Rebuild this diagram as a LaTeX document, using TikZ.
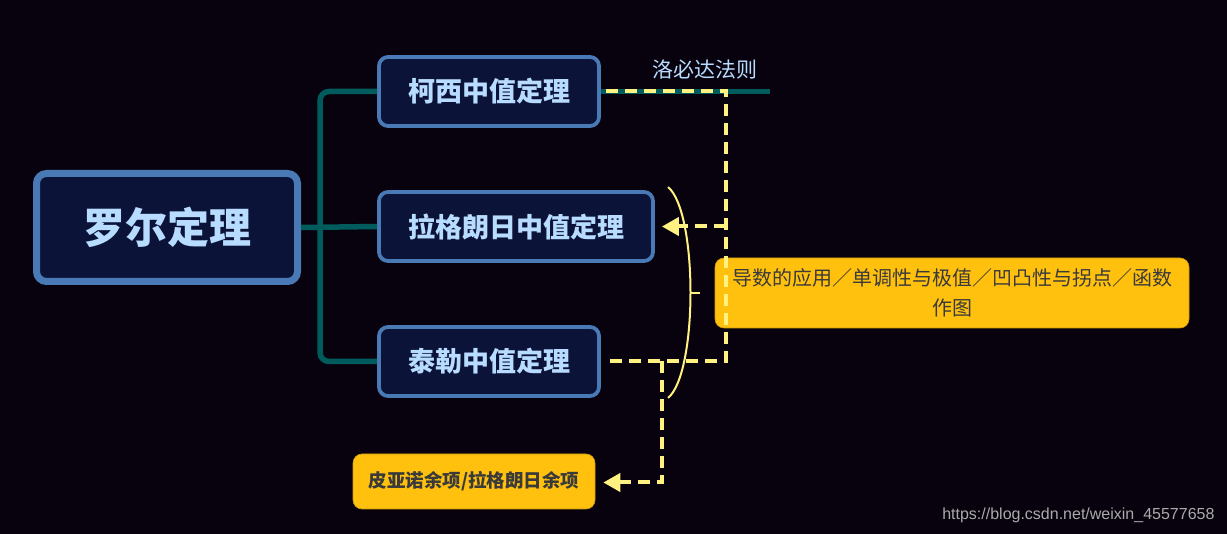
\documentclass[tikz,border=0pt]{standalone}
\usepackage{fontspec}
\newfontfamily\cjk{Noto Sans CJK SC}
\setsansfont{Liberation Sans}
\usetikzlibrary{arrows.meta}
\definecolor{bg}{RGB}{8,2,14}
\definecolor{boxfill}{RGB}{11,19,56}
\definecolor{boxline}{RGB}{74,122,181}
\definecolor{txtblue}{RGB}{184,220,255}
\definecolor{teal1}{RGB}{0,92,92}
\definecolor{dashy}{RGB}{255,242,128}
\definecolor{orng}{RGB}{255,193,14}
\definecolor{darktxt}{RGB}{58,58,58}
\definecolor{wm}{RGB}{170,170,170}
\tikzset{
  topicbox/.style={draw=boxline, fill=boxfill, line width=3.8pt, rounded corners=9pt,
    text=txtblue, font=\cjk\bfseries\fontsize{27}{31}\selectfont, inner sep=0pt,
    minimum height=69pt},
  rootbox/.style={draw=boxline, fill=boxfill, line width=7pt, rounded corners=10pt,
    text=txtblue, font=\cjk\bfseries\fontsize{42}{48}\selectfont, inner sep=0pt,
    minimum width=261pt, minimum height=108pt},
  notebox/.style={fill=orng, draw=orng!80!black, line width=0.6pt, rounded corners=9pt,
    text=darktxt, inner sep=0pt, align=center},
  treeline/.style={draw=teal1, line width=5.5pt},
  dashline/.style={draw=dashy, line width=4pt, dash pattern=on 12pt off 7pt},
  dashtip/.style={-{Triangle[length=17pt,width=18pt,fill=dashy]}},
}
\begin{document}
\begin{tikzpicture}[x=1pt,y=-1pt]
\fill[bg] (0,0) rectangle (1227,534);
\useasboundingbox (0,0) rectangle (1227,534);

\node[rootbox] (root) at (167,227.5) {罗尔定理};
\node[topicbox, minimum width=220pt] (b1) at (489,91.5) {柯西中值定理};
\node[topicbox, minimum width=274pt] (b2) at (516,226.5) {拉格朗日中值定理};
\node[topicbox, minimum width=220pt] (b3) at (489,361.5) {泰勒中值定理};

\coordinate (trunk) at (320,226.5);
\draw[treeline] (root.east) -- (b2.west);
\draw[treeline, rounded corners=9pt] (b1.west) -| (trunk) |- (b3.west);

\coordinate (lend) at (770,91.5);
\draw[treeline, line width=4.5pt] (b1.east) -- (lend);
\node[text=txtblue, font=\cjk\fontsize{21}{25}\selectfont] (lbl) at (705,70) {洛必达法则};

% bracket
\coordinate (brtop) at (668,187);
\coordinate (brbot) at (668,398);
\coordinate (brmid) at (690,293);
\coordinate (brtick) at (700,293);
\draw[dashy, line width=2pt] (brtop) .. controls (698,212) and (698,373) .. (brbot);
\draw[dashy, line width=2pt] (brmid) -- (brtick);

\node[notebox, minimum width=474pt, minimum height=70pt,
  font=\cjk\fontsize{20}{30}\selectfont] (note) at (952,293)
  {导数的应用／单调性与极值／凹凸性与拐点／函数\\作图};
\node[notebox, minimum width=242pt, minimum height=55pt,
  font=\cjk\bfseries\fontsize{18.5}{22}\selectfont] (rem) at (474,481.5)
  {皮亚诺余项/拉格朗日余项};

% dashed connectors
\coordinate (d1) at (726,91.5);
\coordinate (d2) at (726,361.5);
\coordinate (dm) at (726,226.5);
\coordinate (e1) at (662,361.5);
\coordinate (e2) at (662,482.5);
\draw[dashline] ([xshift=5pt]b1.east) -- (d1) -- (d2) -- ([xshift=5pt]b3.east);
\draw[dashline, dashtip, shorten >=7pt] (dm) -- (b2.east);
\draw[dashline, dashtip, shorten >=8pt] (e1) -- (e2) -- (rem.east |- e2);

\node[text=wm, font=\sffamily\fontsize{16}{18}\selectfont, anchor=east] (wmark) at (1218,515) {https://blog.csdn.net/weixin\_45577658};
\end{tikzpicture}
\end{document}
